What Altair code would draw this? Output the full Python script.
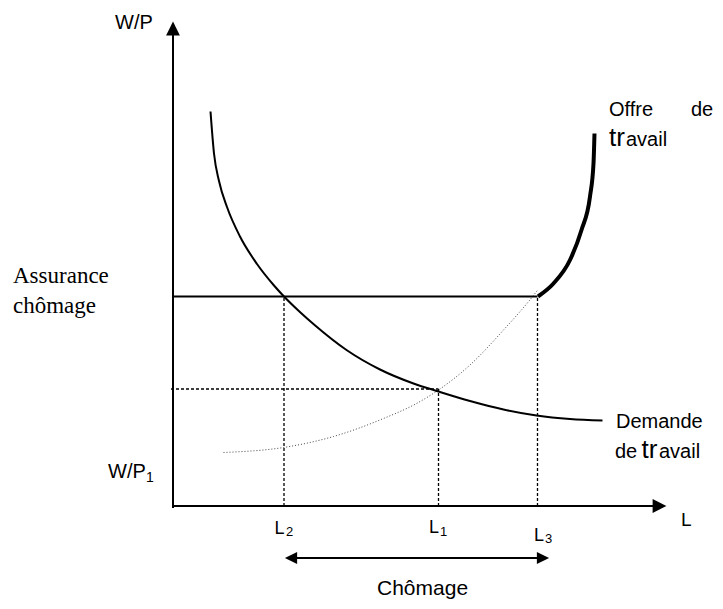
import altair as alt
import pandas as pd

# ---- Diagram data (L = labour, W = real wage W/P, in diagram units) ----
demand_L = [7.5, 8.2, 9.2, 10.8, 13.4, 16.8, 20.2, 22.2, 25.6, 28.2, 34.7, 41.4, 48.1, 53.1, 59.4, 66.1, 72.7, 79.4, 85.9]
demand_W = [78.9, 70.5, 65.0, 59.8, 53.9, 48.4, 44.1, 41.9, 38.6, 36.3, 31.2, 27.3, 24.5, 22.9, 21.0, 19.3, 18.1, 17.4, 17.1]

supply_dotted_L = [10.1, 22.1, 32.1, 42.1, 48.7, 53.1, 59.4, 66.1, 72.7, 73.0]
supply_dotted_W = [10.7, 11.7, 13.9, 17.5, 20.5, 23.2, 28.2, 35.2, 42.9, 43.3]

supply_thick_L = [73.0, 76.1, 79.4, 81.7, 83.4, 84.1, 84.3]
supply_thick_W = [41.9, 44.5, 49.2, 55.2, 61.9, 68.5, 74.5]

L2, L1, L3 = 22.2, 53.1, 72.9
W_insurance = 41.9
W_P1 = 23.4
AXIS_L_END = 96.0
AXIS_W_END = 94.2

# solid rules: axes + insurance level
solid_L = [0.0, -0.2, 0.0]
solid_L2 = [0.0, AXIS_L_END, L3]
solid_W = [-0.4, 0.0, W_insurance]
solid_W2 = [AXIS_W_END, 0.0, W_insurance]

# dashed guide lines
dash_L = [-0.4, L2, L1, L3]
dash_L2 = [L1, L2, L1, L3]
dash_W = [W_P1, 0.0, 0.0, 0.0]
dash_W2 = [W_P1, W_insurance, W_P1, W_insurance]

# unemployment double arrow
arrow_L = [23.8]
arrow_L2 = [73.8]
arrow_W = [-10.4]

# arrowheads
head_L = [0.0, 97.3, 23.6, 74.0]
head_W = [95.5, 0.0, -10.4, -10.4]
head_shape = ["M0,-1L1,1L-1,1Z", "M1,0L-1,-1L-1,1Z", "M-1,0L1,-1L1,1Z", "M1,0L-1,-1L-1,1Z"]
head_size = [190, 190, 150, 150]

# sans labels
lab_text = ["W/P", "Offre", "de", "tr", "avail", "Demande", "de", "tr", "avail",
            "W/P", "1", "L", "L", "2", "L", "1", "L", "3", "Chômage"]
lab_L = [-11.6, 87.2, 103.6, 87.2, 90.6, 88.6, 88.4, 93.7, 97.2,
         -13.0, -5.4, 101.6, 20.3, 22.6, 51.2, 53.4, 72.2, 74.4, 40.8]
lab_W = [95.5, 78.0, 78.0, 72.0, 72.0, 15.6, 9.6, 9.6, 9.6,
         5.6, 4.9, -3.9, -5.5, -6.0, -5.4, -6.0, -6.9, -7.4, -17.8]
lab_fs = [20, 20, 20, 26, 20, 20, 20, 26, 20,
          20, 14, 19, 18, 13, 18, 13, 18, 13, 21]

# serif labels
serif_text = ["Assurance", "chômage"]
serif_L = [-32.0, -32.0]
serif_W = [44.6, 38.6]

# ---- Scales mapping the page ----
xs = alt.Scale(domain=[-33.0, 108.4], nice=False, zero=False)
ys = alt.Scale(domain=[-19.0, 99.6], nice=False, zero=False)


def X(f="L"):
    return alt.X(f"{f}:Q", scale=xs, axis=None)


def Y(f="W"):
    return alt.Y(f"{f}:Q", scale=ys, axis=None)


demand = pd.DataFrame({"L": demand_L, "W": demand_W, "o": range(len(demand_L))})
sdot = pd.DataFrame({"L": supply_dotted_L, "W": supply_dotted_W, "o": range(len(supply_dotted_L))})
sthick = pd.DataFrame({"L": supply_thick_L, "W": supply_thick_W, "o": range(len(supply_thick_L))})
solid = pd.DataFrame({"L": solid_L, "L2": solid_L2, "W": solid_W, "W2": solid_W2})
dashed = pd.DataFrame({"L": dash_L, "L2": dash_L2, "W": dash_W, "W2": dash_W2})
arrow = pd.DataFrame({"L": arrow_L, "L2": arrow_L2, "W": arrow_W})
heads = pd.DataFrame({"L": head_L, "W": head_W, "shape": head_shape, "size": head_size})
labs = pd.DataFrame({"t": lab_text, "L": lab_L, "W": lab_W, "fs": lab_fs})
slabs = pd.DataFrame({"t": serif_text, "L": serif_L, "W": serif_W})

layers = []

layers.append(alt.Chart(dashed).mark_rule(color="black", strokeWidth=1.3, strokeDash=[3, 2]).encode(
    x=X(), x2="L2:Q", y=Y(), y2="W2:Q"))

layers.append(alt.Chart(sdot).mark_line(color="#444444", strokeWidth=1, strokeDash=[1, 2],
                                        interpolate="monotone").encode(x=X(), y=Y(), order="o:Q"))

layers.append(alt.Chart(solid).mark_rule(color="black", strokeWidth=2).encode(
    x=X(), x2="L2:Q", y=Y(), y2="W2:Q"))

layers.append(alt.Chart(demand).mark_line(color="black", strokeWidth=2,
                                          interpolate="monotone").encode(x=X(), y=Y(), order="o:Q"))

layers.append(alt.Chart(sthick).mark_line(color="black", strokeWidth=4,
                                          interpolate="monotone").encode(x=X(), y=Y(), order="o:Q"))

layers.append(alt.Chart(arrow).mark_rule(color="black", strokeWidth=2).encode(
    x=X(), x2="L2:Q", y=Y()))

for i in range(len(head_L)):
    layers.append(alt.Chart(heads.iloc[[i]]).mark_point(
        filled=True, color="black", opacity=1, shape=head_shape[i], size=head_size[i], strokeWidth=0
    ).encode(x=X(), y=Y()))

layers.append(alt.Chart(labs).mark_text(font="Liberation Sans", align="left", baseline="alphabetic",
                                        color="black").encode(
    x=X(), y=Y(), text="t:N", size=alt.Size("fs:Q", scale=None)))

layers.append(alt.Chart(slabs).mark_text(font="Liberation Serif", align="left", baseline="alphabetic",
                                         fontSize=23, color="black").encode(
    x=X(), y=Y(), text="t:N"))

chart = alt.layer(*layers).properties(
    width=707, height=593, autosize="none", padding=0
).configure_view(stroke=None)

chart.save("out.html", embed_options={"renderer": "svg", "actions": False})
